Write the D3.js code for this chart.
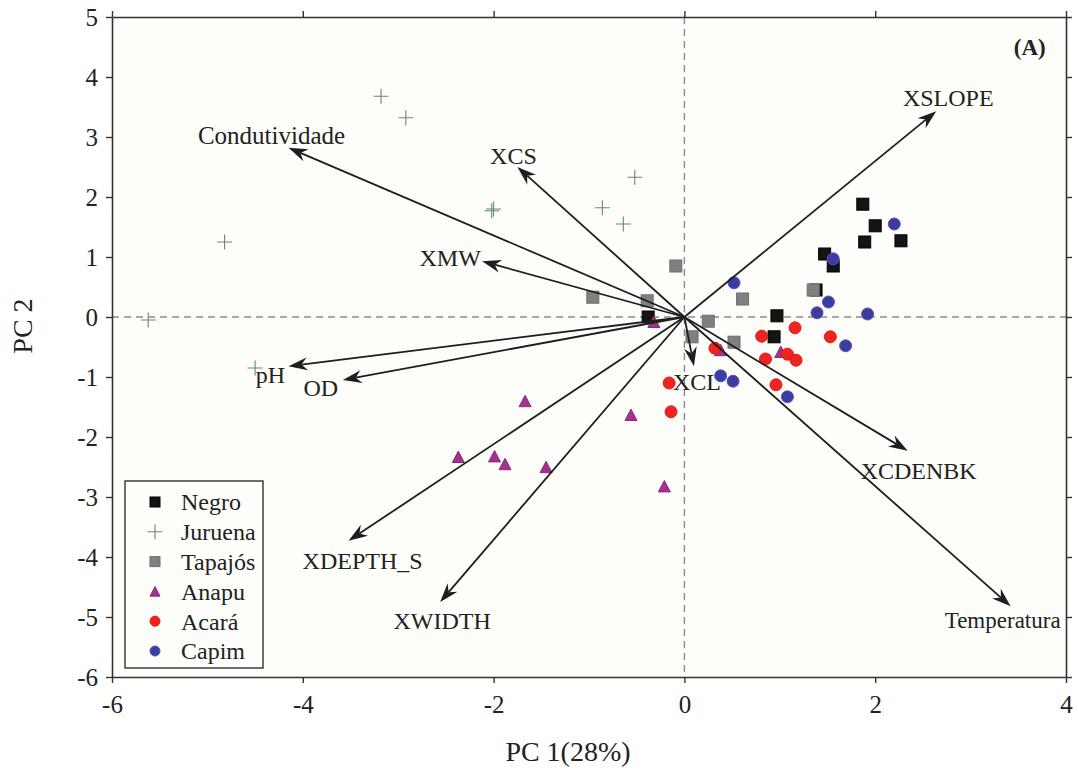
<!DOCTYPE html>
<html>
<head>
<meta charset="utf-8">
<script src="https://cdn.jsdelivr.net/npm/d3@7"></script>
<style>
  body { margin: 0; background: #fff; }
  text { font-family: "Liberation Serif", "Times New Roman", serif; fill: #222; }
</style>
</head>
<body>
<div id="chart"></div>
<script>
// PCA scores per river (PC1, PC2)
const negro = [[1.87, 1.88], [2.00, 1.52], [1.89, 1.25], [2.27, 1.27], [1.47, 1.05],
  [1.56, 0.85], [0.97, 0.02], [0.94, -0.33], [-0.38, 0.00], [1.38, 0.45]];
const juruena = [[-3.18, 3.68], [-2.92, 3.32], [-4.82, 1.25], [-5.62, -0.05], [-2.00, 1.80],
  [-2.02, 1.77], [-0.52, 2.33], [-0.86, 1.82], [-0.64, 1.55], [-4.50, -0.85]];
const tapajos = [[-0.96, 0.33], [-0.09, 0.85], [-0.39, 0.27], [0.61, 0.30], [0.25, -0.07],
  [0.08, -0.33], [0.52, -0.42], [1.35, 0.45]];
const anapu = [[-0.32, -0.08], [-1.67, -1.40], [-0.56, -1.63], [-2.37, -2.33], [-1.99, -2.32],
  [-1.88, -2.45], [-1.45, -2.50], [-0.21, -2.82], [0.38, -0.55], [1.01, -0.58]];
const acara = [[0.32, -0.52], [0.81, -0.32], [1.16, -0.18], [0.85, -0.70], [1.08, -0.62],
  [1.17, -0.72], [0.96, -1.13], [1.53, -0.33], [-0.16, -1.10], [-0.14, -1.58]];
const capim = [[0.52, 0.57], [1.56, 0.97], [1.51, 0.25], [1.39, 0.07], [1.92, 0.05],
  [2.20, 1.55], [1.69, -0.48], [0.38, -0.98], [0.51, -1.07], [1.08, -1.33]];

// loadings (arrow tips)
const variables = ["XSLOPE", "Condutividade", "XCS", "XMW", "pH", "OD",
  "XDEPTH_S", "XWIDTH", "XCL", "XCDENBK", "Temperatura"];
const loadPC1 = [2.64, -4.15, -1.75, -2.12, -4.15, -3.58, -3.52, -2.56, 0.10, 2.34, 3.42];
const loadPC2 = [3.43, 2.82, 2.50, 0.93, -0.82, -1.05, -3.73, -4.75, -0.82, -2.23, -4.82];

const xTicks = [-6, -4, -2, 0, 2, 4];
const yTicks = [-6, -5, -4, -3, -2, -1, 0, 1, 2, 3, 4, 5];

// label placement (pixels from arrow tip)
const labelOffset = {
  XSLOPE: [12, -14], Condutividade: [-17, -13], XCS: [-4, -11], XMW: [-32, -4],
  pH: [-18, 8], OD: [-22, 8], XDEPTH_S: [14, 20], XWIDTH: [2, 19],
  XCL: [3, 15], XCDENBK: [11, 20], Temperatura: [-8, 14]
};

const series = [
  { name: "Negro", pts: negro, shape: "square", fill: "#141414", stroke: "#000" },
  { name: "Juruena", pts: juruena, shape: "plus", fill: "none", stroke: "#6b8a6b" },
  { name: "Tapajós", pts: tapajos, shape: "square", fill: "#808080", stroke: "#6e6e6e" },
  { name: "Anapu", pts: anapu, shape: "triangle", fill: "#a1328f", stroke: "#8a2a7a" },
  { name: "Acará", pts: acara, shape: "circle", fill: "#ef2420", stroke: "#e01a1a" },
  { name: "Capim", pts: capim, shape: "circle", fill: "#3b3ba2", stroke: "#5656b8" }
];

const W = 1078, H = 776;
const margin = { top: 17, right: 12, bottom: 99, left: 112 };
const width = W - margin.left - margin.right;
const height = H - margin.top - margin.bottom;

const svg = d3.select("#chart").append("svg")
  .attr("width", W).attr("height", H)
  .append("g")
  .attr("transform", `translate(${margin.left},${margin.top})`);

const x = d3.scaleLinear().domain([-6, 4]).range([0, width]);
const y = d3.scaleLinear().domain([-6, 5]).range([height, 0]);

svg.append("rect").attr("width", width).attr("height", height).attr("fill", "#fdfdfa");

// zero lines
svg.append("line").attr("x1", 0).attr("x2", width).attr("y1", y(0)).attr("y2", y(0))
  .attr("stroke", "#8a8a8a").attr("stroke-width", 1.4).attr("stroke-dasharray", "7,5");
svg.append("line").attr("x1", x(0)).attr("x2", x(0)).attr("y1", 0).attr("y2", height)
  .attr("stroke", "#8a8a8a").attr("stroke-width", 1.4).attr("stroke-dasharray", "7,5");

function symbol(g, shape, cx, cy, s, fill, stroke) {
  if (shape === "square") {
    g.append("rect").attr("x", cx - s / 2).attr("y", cy - s / 2).attr("width", s).attr("height", s)
      .attr("fill", fill).attr("stroke", stroke).attr("stroke-width", 1);
  } else if (shape === "circle") {
    g.append("circle").attr("cx", cx).attr("cy", cy).attr("r", s / 2)
      .attr("fill", fill).attr("stroke", stroke).attr("stroke-width", 1);
  } else if (shape === "triangle") {
    const h = s * 0.95;
    g.append("path")
      .attr("d", `M${cx},${cy - h / 2}L${cx + s / 2},${cy + h / 2}L${cx - s / 2},${cy + h / 2}Z`)
      .attr("fill", fill).attr("stroke", stroke).attr("stroke-width", 1);
  } else {
    const r = s * 0.62;
    g.append("path").attr("d", `M${cx - r},${cy}H${cx + r}M${cx},${cy - r}V${cy + r}`)
      .attr("fill", "none").attr("stroke", stroke).attr("stroke-width", 1.1);
  }
}

// points
const pts = svg.append("g");
series.forEach(s => {
  s.pts.forEach(p => {
    symbol(pts, s.shape, x(p[0]), y(p[1]), 12, s.fill, s.stroke);
  });
});

// biplot arrows
const arrows = svg.append("g");
const ox = x(0), oy = y(0);
variables.forEach((v, i) => {
  const tx = x(loadPC1[i]), ty = y(loadPC2[i]);
  const len = Math.hypot(tx - ox, ty - oy);
  const ux = (tx - ox) / len, uy = (ty - oy) / len;
  const px = -uy, py = ux;
  const L = 19, Wd = 6.5, N = 13;
  arrows.append("line")
    .attr("x1", ox).attr("y1", oy)
    .attr("x2", tx - N * ux).attr("y2", ty - N * uy)
    .attr("stroke", "#1e1e1e").attr("stroke-width", 1.8);
  arrows.append("path")
    .attr("d", `M${tx},${ty}L${tx - L * ux + Wd * px},${ty - L * uy + Wd * py}` +
      `L${tx - N * ux},${ty - N * uy}L${tx - L * ux - Wd * px},${ty - L * uy - Wd * py}Z`)
    .attr("fill", "#1e1e1e");
  const off = labelOffset[v];
  svg.append("text")
    .attr("x", tx + off[0]).attr("y", ty + off[1])
    .attr("dy", "0.35em")
    .attr("text-anchor", "middle")
    .attr("font-size", v === "Temperatura" ? 23 : v === "Condutividade" ? 25 : 24)
    .text(v);
});

svg.append("text").attr("x", x(3.62)).attr("y", y(4.5)).attr("dy", "0.35em")
  .attr("text-anchor", "middle").attr("font-size", 23).attr("font-weight", "bold").text("(A)");

// axes
const fmt = d => d3.format("")(d).replace("−", "-");
const axisStyle = g => {
  g.select(".domain").attr("stroke", "#333").attr("stroke-width", 1.6);
  g.selectAll(".tick line").attr("stroke", "#333").attr("stroke-width", 1.4);
  g.selectAll(".tick text").attr("font-family", "Liberation Serif, serif")
    .attr("font-size", 25).attr("fill", "#222");
};
svg.append("g").attr("transform", `translate(0,${height})`)
  .call(d3.axisBottom(x).tickValues(xTicks).tickFormat(fmt).tickSize(6).tickSizeOuter(0).tickPadding(12))
  .call(axisStyle);
svg.append("g")
  .call(d3.axisLeft(y).tickValues(yTicks).tickFormat(fmt).tickSize(6).tickSizeOuter(0).tickPadding(8))
  .call(axisStyle);
svg.append("g")
  .call(d3.axisTop(x).tickValues(xTicks).tickFormat("").tickSize(6).tickSizeOuter(0))
  .call(axisStyle);
svg.append("g").attr("transform", `translate(${width},0)`)
  .call(d3.axisRight(y).tickValues(yTicks).tickFormat("").tickSize(6).tickSizeOuter(0))
  .call(axisStyle);

// axis titles
svg.append("text").attr("x", width / 2 - 21).attr("y", height + 84)
  .attr("text-anchor", "middle").attr("font-size", 28).text("PC 1(28%)");
svg.append("text").attr("transform", `translate(${-80},${y(-0.15)}) rotate(-90)`)
  .attr("text-anchor", "middle").attr("font-size", 28).text("PC 2");

// legend
const lg = svg.append("g").attr("transform", `translate(${125 - margin.left},${481 - margin.top})`);
lg.append("rect").attr("width", 138).attr("height", 187)
  .attr("fill", "#fdfdfa").attr("stroke", "#222").attr("stroke-width", 1.3);
series.forEach((s, i) => {
  const cy = 21 + i * 29.8;
  symbol(lg, s.shape, 30, cy, s.shape === "plus" ? 12 : 10, s.fill, s.stroke);
  lg.append("text").attr("x", 56).attr("y", cy).attr("dy", "0.35em")
    .attr("font-size", 24).text(s.name);
});
</script>
</body>
</html>
